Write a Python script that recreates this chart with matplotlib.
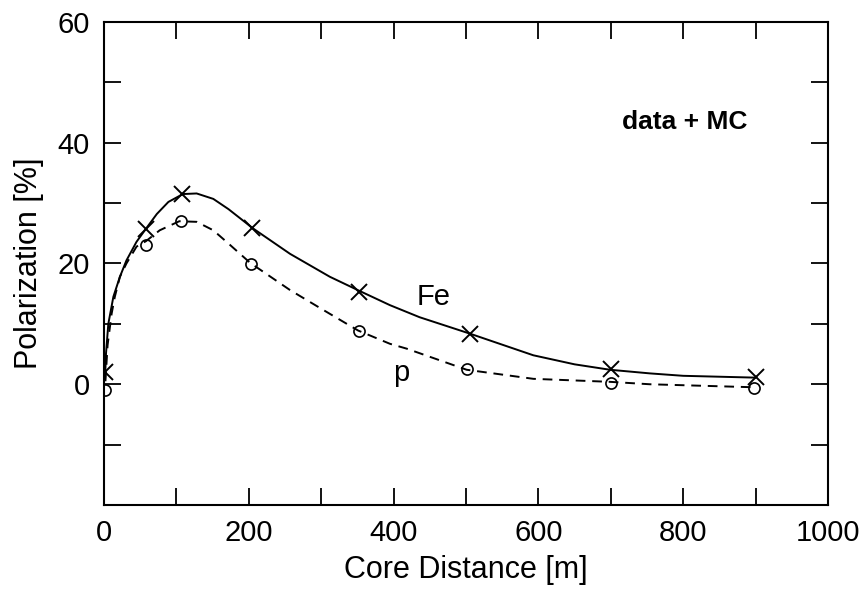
import matplotlib
matplotlib.use("Agg")
import matplotlib.pyplot as plt
from matplotlib.ticker import MultipleLocator

plt.rcParams['font.family'] = ['Liberation Sans', 'DejaVu Sans']

# measured points
fe_x = [2, 58, 108, 205, 352, 505, 700, 900]
fe_y = [2.0, 25.7, 31.5, 25.8, 15.3, 8.3, 2.5, 1.2]
p_x = [2, 58, 106, 203, 352, 501, 700, 898]
p_y = [-0.9, 23.1, 27.1, 19.9, 8.9, 2.6, 0.2, -0.7]

# fitted curves
fe_curve_x = [1.4, 2.8, 6, 13, 22, 31, 45, 57, 73, 89, 109, 128, 151, 172, 206, 257, 312, 354,
              395, 436, 505, 593, 650, 699, 754, 800, 899]
fe_curve_y = [0.7, 5.1, 10.0, 14.5, 17.8, 20.5, 23.6, 25.6, 28.2, 30.2, 31.5, 31.6, 30.7, 29.0,
              25.8, 21.6, 17.8, 15.4, 13.1, 11.1, 8.4, 4.8, 3.3, 2.4, 1.8, 1.4, 1.1]
p_curve_x = [2, 5, 10.6, 15, 22, 31, 45, 58, 77, 104, 128, 151, 172, 202, 257, 303, 351, 395,
             418, 501, 593, 699, 754, 898]
p_curve_y = [0.5, 6.5, 11.7, 14.5, 17.8, 20.0, 22.8, 23.7, 25.5, 27.0, 26.9, 25.5, 23.3, 20.1,
             15.6, 12.3, 8.9, 6.7, 5.9, 2.4, 0.9, 0.4, 0.0, -0.5]

fig = plt.figure(figsize=(8.65, 5.94), dpi=100)
ax = fig.add_axes([0.1202, 0.1498, 0.8370, 0.8132])

ax.plot(fe_curve_x, fe_curve_y, '-', color='black', lw=1.4, solid_joinstyle='round')
ax.plot(p_curve_x, p_curve_y, '--', color='black', lw=1.4, dashes=(5, 3.5))
ax.plot(fe_x, fe_y, 'x', color='black', ms=11, mew=1.4)
ax.plot(p_x, p_y, 'o', color='black', ms=8, mfc='none', mew=1.2)

ax.set_xlim(0, 1000)
ax.set_ylim(-20, 60)
ax.xaxis.set_major_locator(MultipleLocator(200))
ax.xaxis.set_minor_locator(MultipleLocator(100))
ax.yaxis.set_major_locator(MultipleLocator(20))
ax.yaxis.set_minor_locator(MultipleLocator(10))
ax.set_yticks([0, 20, 40, 60])
ax.tick_params(which='both', direction='in', top=True, right=True, width=1.3, labelsize=21, pad=10)
ax.tick_params(which='major', length=12)
ax.tick_params(which='minor', length=12)
for s in ax.spines.values():
    s.set_linewidth(1.5)

ax.set_xlabel('Core Distance [m]', fontsize=22, labelpad=6)
ax.set_ylabel('Polarization [%]', fontsize=22, labelpad=10)

ax.text(455, 14.5, 'Fe', fontsize=21, ha='center', va='center')
ax.text(411, 1.8, 'p', fontsize=21, ha='center', va='center')
ax.text(802, 43.4, 'data + MC', fontsize=19, fontweight='bold', ha='center', va='center')

fig.savefig('out.png', dpi=100)
